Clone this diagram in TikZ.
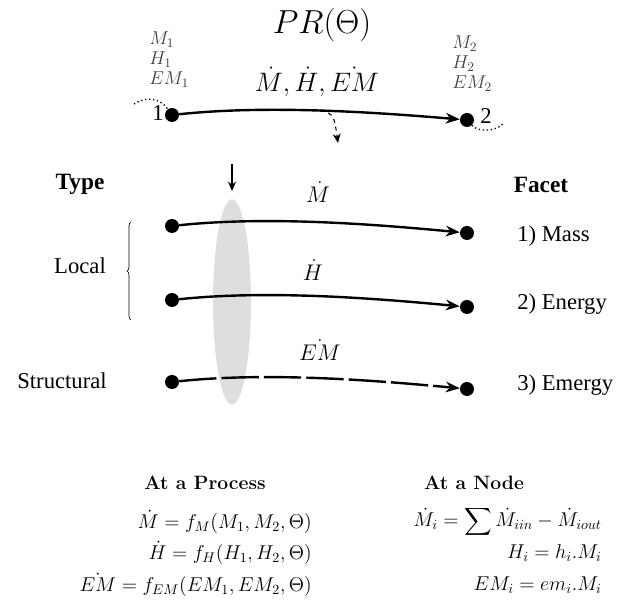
\RequirePackage{fix-cm}
\documentclass[tikz,border=0pt]{standalone}
\usepackage{fontspec}
\usepackage{amsmath}
\newfontfamily\tnr{Liberation Serif}
\usetikzlibrary{arrows.meta,shapes.geometric,decorations.pathreplacing}
\begin{document}
\begin{tikzpicture}[x=0.75pt,y=-0.75pt,
  dot/.style={circle,fill=black,inner sep=0pt,minimum size=10.5pt},
  flow/.style={line width=1.8pt,-{Stealth[length=10.5pt,width=8pt]}},
  tlabel/.style={font=\tnr\fontsize{17}{20}\selectfont,inner sep=0pt},
  blabel/.style={font=\tnr\bfseries\fontsize{17.5}{20}\selectfont,inner sep=0pt},
  flab/.style={font=\fontsize{17}{20}\selectfont,inner sep=0pt},
  eq/.style={anchor=east,font=\fontsize{15}{18}\selectfont,inner sep=0pt},
  hd/.style={font=\bfseries\fontsize{14.5}{17}\selectfont,inner sep=0pt}]
\useasboundingbox (0,0) rectangle (633,609);
% grey ellipse
\node[ellipse,fill=black!13,inner sep=0pt,minimum width=28.5pt,minimum height=154pt] (ell) at (232,302) {};
% title
\node[font=\fontsize{25}{30}\selectfont,inner sep=0pt] (title) at (322,25) {$PR(\Theta)$};
% top process
\node[dot] (n1) at (172,115) {};
\node[dot] (n2) at (467,120) {};
\draw[flow] (n1) .. controls +(95,-10) and +(-95,-8) .. (n2);
\node[inner sep=0pt,font=\fontsize{20}{24}\selectfont] (toplab) at (317,82) {$\dot M, \dot H, \dot{EM}$};
\node[tlabel] (lab1) at (158,113) {1};
\node[tlabel] (lab2) at (486,116) {2};
\node[anchor=west,align=left,inner sep=0pt,text=black!75,font=\fontsize{14}{15}\selectfont] (st1) at (149,60) {$M_1$\\$H_1$\\$EM_1$};
\node[anchor=west,align=left,inner sep=0pt,text=black!75,font=\fontsize{14}{15}\selectfont] (st2) at (452,64) {$M_2$\\$H_2$\\$EM_2$};
\coordinate (dl1) at (134,104);
\coordinate (dl2) at (503,124);
\draw[dotted,line width=1pt] (dl1) .. controls (146,96) and (160,98) .. (n1);
\draw[dotted,line width=1pt] (n2) .. controls (478,132) and (494,132) .. (dl2);
\coordinate (c1) at (321,110);
\coordinate (c2) at (338,143);
\draw[dashed,line width=0.8pt,-{Stealth[length=7pt,width=6pt]}] (c1) .. controls (334,115) .. (c2);
% down arrow
\coordinate (d1) at (232,164);
\coordinate (d2) at (232,191);
\draw[line width=0.8pt,-{Stealth[length=7pt,width=6pt]}] (d1) -- (d2);
% headings
\node[blabel] (type) at (80,184) {Type};
\node[blabel] (facet) at (541,185) {Facet};
% rows
\node[dot] (a1) at (172,226) {};
\node[dot] (b1) at (467,233) {};
\node[dot] (a2) at (172,300) {};
\node[dot] (b2) at (467,307) {};
\node[dot] (a3) at (172,382) {};
\node[dot] (b3) at (467,389) {};
\draw[flow] (a1) .. controls +(95,-10) and +(-95,-9) .. (b1);
\draw[flow] (a2) .. controls +(95,-10) and +(-95,-9) .. (b2);
\draw[flow,dash pattern=on 28pt off 3.8pt] (a3) .. controls +(95,-10) and +(-95,-9) .. (b3);
\node[flab] (l1) at (318,192) {$\dot M$};
\node[flab] (l2) at (313,270) {$\dot H$};
\node[flab] (l3) at (320,350) {$\dot{EM}$};
\node[tlabel,anchor=west] (f1) at (517,236) {1) Mass};
\node[tlabel,anchor=west] (f2) at (517,304) {2) Energy};
\node[tlabel,anchor=west] (f3) at (517,385) {3) Emergy};
\node[tlabel] (loc) at (80,266) {Local};
\node[tlabel] (str) at (62,381) {Structural};
\coordinate (br1) at (131,320);
\coordinate (br2) at (131,222);
\draw[line width=0.5pt,decorate,decoration={brace,amplitude=3pt}] (br1) -- (br2);
% equations
\node[hd] (hp) at (205,483) {At a Process};
\node[hd] (hn) at (474,483) {At a Node};
\node[eq] (e1) at (312,522) {$\dot M = f_M(M_1, M_2, \Theta)$};
\node[eq] (e2) at (312,553) {$\dot H = f_H(H_1, H_2, \Theta)$};
\node[eq] (e3) at (312,585) {$\dot{EM} = f_{EM}(EM_1, EM_2, \Theta)$};
\node[eq] (g1) at (602,522) {$\dot M_i = \displaystyle\sum \dot M_{iin} - \dot M_{iout}$};
\node[eq] (g2) at (602,553) {$H_i = h_i.M_i$};
\node[eq] (g3) at (602,585) {$EM_i = em_i.M_i$};
\end{tikzpicture}
\end{document}
